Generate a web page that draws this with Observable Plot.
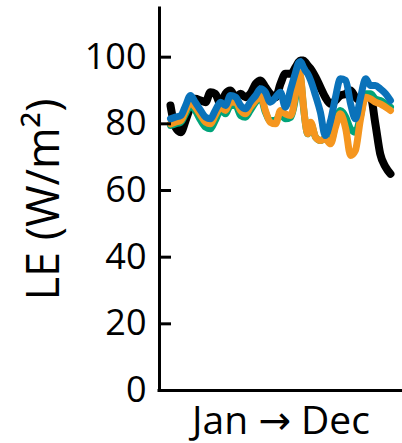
<!DOCTYPE html>
<html>
<head>
<meta charset="utf-8">
<script src="https://cdn.jsdelivr.net/npm/d3@7"></script>
<script src="https://cdn.jsdelivr.net/npm/@observablehq/plot@0.6"></script>
<style>
  html, body { margin: 0; padding: 0; background: #fff; }
  #chart { width: 402px; height: 443px; }
</style>
</head>
<body>
<div id="chart"></div>
<script>
// Day of year for each sample
const days = [1, 9, 18, 26, 34, 42, 51, 59, 67, 75, 84, 92, 100, 109, 117, 125, 133, 142, 150, 158,
  166, 175, 183, 191, 200, 208, 213, 216, 221, 224, 228, 233, 241, 249, 257, 266, 274, 282, 291, 299,
  307, 315, 324, 332, 340, 348, 357, 365];

// LE (W/m2) series
const seriesBlack = [85.5, 79, 77.5, 81, 85, 87.5, 87, 86.5, 89.5, 89, 86, 89, 90, 88, 89, 88, 89, 92, 93, 91,
  89, 88, 92, 95, 95, 97, 98.5, 99, 99, 98.5, 97.5, 96.5, 94, 91, 88, 86, 87, 88.5, 89, 90,
  88, 87, 88, 88, 80, 71, 67, 65];
const seriesGreen = [79.5, 80, 80.5, 83, 85.5, 84, 81, 79, 78.5, 81, 84, 83, 85.5, 85.5, 82.5, 82, 84, 86.5, 88, 83.5,
  81, 81, 83, 81.5, 82, 88, 95, 94, 85, 80.5, 77, 80, 76, 75, 75.5, 74.5, 80, 84, 82, 78.5,
  77.5, 82, 89, 89, 87.5, 87, 86, 85];
const seriesOrange = [80, 80.5, 81, 84, 86.5, 85, 82.5, 80.5, 80, 82.5, 85, 84, 86.5, 86.5, 84, 83, 85, 87, 88.5, 84,
  80.5, 80, 84, 83, 82.5, 89, 95.5, 94.5, 85.5, 80.5, 77, 80.5, 76, 75, 75.5, 74, 79, 83, 78.5, 70.5,
  72, 81, 88, 87.5, 86.5, 86, 85, 84];
const seriesBlue = [81.5, 82, 82.5, 85.5, 88.5, 86.5, 84, 82, 81.5, 84, 86.5, 85.5, 88.5, 88, 85.5, 84.5, 86.5, 88.5, 90.5, 89.5,
  86.5, 88, 89.5, 85, 90.5, 95.5, 98.3, 98.7, 97, 96, 95, 93, 88.5, 83.5, 76.5, 81, 88, 93.5, 93, 86,
  81.5, 87.5, 93.5, 91.5, 91.5, 90.5, 89, 87];

const yTicks = [0, 20, 40, 60, 80, 100];
const yLabel = "LE (W/m²)";
const xLabel = "Jan → Dec";

const seriesList = [
  {name: "black", values: seriesBlack, color: "#000000", width: 8},
  {name: "green", values: seriesGreen, color: "#00A47A", width: 7},
  {name: "orange", values: seriesOrange, color: "#F5961F", width: 7},
  {name: "blue", values: seriesBlue, color: "#0A72BA", width: 7}
];

const xDomain = [-17.2, 384.9];
const yDomain = [0, 114.6];
const font = "'Open Sans', 'DejaVu Sans', sans-serif";

const lineMarks = seriesList.map(s =>
  Plot.line(days.map((d, i) => ({day: d, le: s.values[i]})), {
    x: "day", y: "le", stroke: s.color, strokeWidth: s.width,
    curve: "monotone-x", strokeLinejoin: "round", strokeLinecap: "round"
  })
);

const chart = Plot.plot({
  width: 402,
  height: 443,
  marginLeft: 159,
  marginRight: 0,
  marginTop: 8,
  marginBottom: 53,
  style: {fontFamily: font, background: "#fff", color: "#000"},
  x: {domain: xDomain, axis: null},
  y: {domain: yDomain, axis: null},
  marks: [
    ...lineMarks,
    Plot.ruleX([xDomain[0]], {stroke: "#000", strokeWidth: 3, strokeLinecap: "square"}),
    Plot.ruleY([0], {stroke: "#000", strokeWidth: 3, strokeLinecap: "square"}),
    Plot.tickY(yTicks, {y: d => d, stroke: "#000", strokeWidth: 3, insetRight: 231}),
    Plot.axisY(yTicks, {tickSize: 0, tickPadding: 13, fontSize: 36, label: null, fontFamily: font}),
    Plot.text([yLabel], {text: d => d, frameAnchor: "left", rotate: -90, dx: -115, fontSize: 45,
      textAnchor: "middle", lineAnchor: "middle", fontFamily: font}),
    Plot.text([xLabel], {text: d => d, frameAnchor: "bottom", dy: 43, fontSize: 39,
      textAnchor: "middle", lineAnchor: "bottom", fontFamily: font})
  ]
});
document.getElementById("chart").appendChild(chart);
</script>
</body>
</html>
